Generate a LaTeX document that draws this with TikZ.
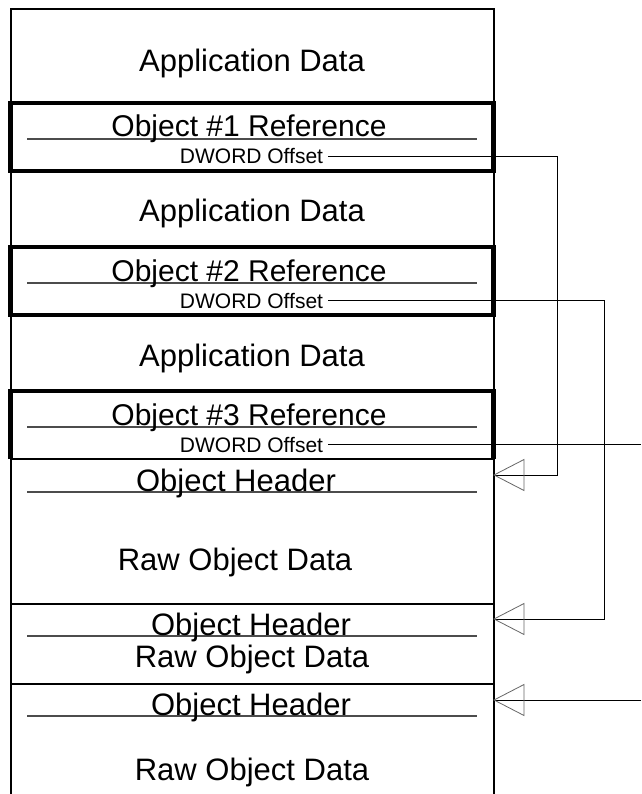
\documentclass[tikz,border=0pt]{standalone}
\usepackage{fontspec}
\setmainfont{Liberation Sans}
\usepackage{tikz}
\tikzset{
  big/.style={anchor=base,inner sep=0pt,font=\fontsize{31}{36}\selectfont},
  mid/.style={anchor=base,inner sep=0pt,font=\fontsize{30}{36}\selectfont},
  small/.style={anchor=base,inner sep=5pt,font=\fontsize{21}{25}\selectfont},
  frame/.style={line width=2pt},
  sep/.style={line width=1.5pt},
  refbox/.style={line width=4.5pt},
  rule/.style={line width=1.2pt,black!70},
  link/.style={line width=0.9pt},
  head/.style={line width=0.8pt,black!60}
}

\begin{document}
\begin{tikzpicture}[x=1pt,y=-1pt]
    \useasboundingbox (0,0) rectangle (641,794);
    \fill[white] (0,0) rectangle (641,794);
    \draw[frame] (10.5,800) |- (493.5,9) -- (493.5,800);
    \foreach \y in {459,604,684} \draw[sep] (10.5,\y) -- (493.5,\y);
    \foreach \y in {103,247} \draw[refbox] (10.5,\y) rectangle (493.5,\y+68);
    \draw[refbox] (10.5,459) |- (493.5,391) -- (493.5,459);
    \foreach \y in {139,283,427,492,636,716} \draw[rule] (27,\y) -- (477,\y);

    \node[big] (app1) at (252,72) {Application Data};
    \node[big] (app2) at (252,222) {Application Data};
    \node[big] (app3) at (252,366) {Application Data};
    \foreach \i/\y in {1/0,2/144,3/288} {
        \node[mid] (ref\i) at (249,137+\y) {Object \#\i{} Reference};
        \node[small] (off\i) at (251.5,164+\y) {DWORD Offset};
    }
    \node[big] (hdr1) at (236,491) {Object Header};
    \node[big] (raw1) at (235,570) {Raw Object Data};
    \node[big] (hdr2) at (251,635) {Object Header};
    \node[big] (raw2) at (252,667) {Raw Object Data};
    \node[big] (hdr3) at (251,715) {Object Header};
    \node[big] (raw3) at (252,780) {Raw Object Data};

    \coordinate (tip1) at (494,475);
    \coordinate (tip2) at (494,619);
    \coordinate (tip3) at (494,700);
    \coordinate (out3) at (641,443);
    \coordinate (in3) at (641,700);

    \draw[link] (off1.east) -| ([xshift=63pt]tip1) -- (tip1);
    \draw[link] (off2.east) -| ([xshift=110pt]tip2) -- (tip2);
    \draw[link] (off3.east) -- (off3.east -| out3);
    \draw[link] (in3) -- (tip3);
    \foreach \t in {tip1,tip2,tip3} \draw[head] (\t) -- ++(30,-15.5) -- ++(0,31) -- cycle;
\end{tikzpicture}
\end{document}
